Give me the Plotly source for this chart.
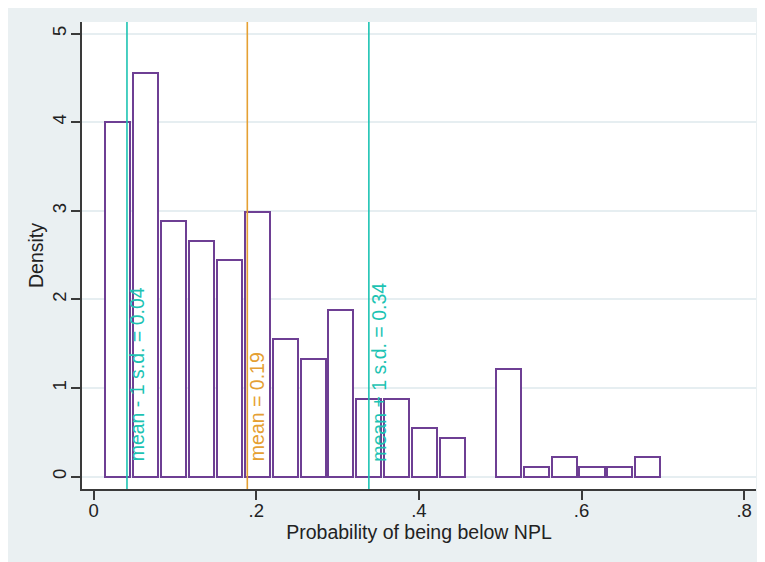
import plotly.graph_objects as go

# ---- data ----
bin_start = 0.0126          # left edge of first bin
bin_width = 0.0343          # width of each bin
density = [4.00, 4.55, 2.88, 2.66, 2.44, 2.99, 1.55, 1.33, 1.88, 0.88,
           0.88, 0.55, 0.44, 0.00, 1.22, 0.11, 0.22, 0.11, 0.11, 0.22]
ref_values = [0.041, 0.189, 0.3385]
ref_labels = ["mean - 1 s.d. = 0.04", "mean = 0.19", "mean + 1 s.d. = 0.34"]
ref_colors = ["#1DC3B3", "#E5A033", "#1DC3B3"]
x_tickvals = [0, 0.2, 0.4, 0.6, 0.8]
x_ticktext = ["0", ".2", ".4", ".6", ".8"]
y_tickvals = [0, 1, 2, 3, 4, 5]
y_ticktext = ["0", "1", "2", "3", "4", "5"]

centers = [bin_start + (i + 0.5) * bin_width for i in range(len(density))]
bar_heights = [d if d > 0 else None for d in density]  # empty bins draw nothing

BG = "#EAF0F2"
PURPLE = "#6E3F94"
AX = "#3A3A3A"
GRID = "#E6EEF1"
TXT = "#222222"
FONT = "Liberation Sans, Arial, sans-serif"

fig = go.Figure()
fig.add_trace(go.Bar(
    x=centers, y=bar_heights, width=bin_width * 0.9,
    marker=dict(color="white", line=dict(color=PURPLE, width=2)),
    showlegend=False, hoverinfo="x+y"))

for v, lab, col in zip(ref_values, ref_labels, ref_colors):
    fig.add_shape(type="line", xref="x", yref="paper", x0=v, x1=v, y0=0, y1=1,
                  line=dict(color=col, width=1.6), layer="above")
    fig.add_annotation(x=v, y=0.15, xref="x", yref="y", text=lab,
                       textangle=-90, showarrow=False, xanchor="left",
                       yanchor="bottom", xshift=-3,
                       font=dict(family=FONT, size=19.5, color=col))

# page body adds an 8px offset, so the figure is 8px smaller than the window
W, H = 757, 554
L, R, T, B = 74, 9, 14, 73

fig.update_layout(
    width=W, height=H,
    margin=dict(l=L, r=R, t=T, b=B, pad=0, autoexpand=False),
    paper_bgcolor=BG, plot_bgcolor="white",
    font=dict(family=FONT, size=18.5, color=TXT),
    bargap=0,
    xaxis=dict(range=[-0.0143, 0.8146], tickvals=x_tickvals, ticktext=x_ticktext,
               ticks="outside", ticklen=9, tickwidth=1.5, tickcolor=AX,
               showline=True, linecolor=AX, linewidth=1.5, showgrid=False,
               zeroline=False, automargin=False, ticklabelstandoff=-5,
               tickfont=dict(size=18.5, color=TXT),
               title=dict(text="Probability of being below NPL",
                          font=dict(size=19.5, color=TXT), standoff=2)),
    yaxis=dict(range=[-0.139, 5.13], tickvals=y_tickvals, ticktext=y_ticktext,
               tickangle=-90,
               ticks="outside", ticklen=9, tickwidth=1.5, tickcolor=AX,
               showline=True, linecolor=AX, linewidth=1.5, showgrid=True,
               gridcolor=GRID, gridwidth=1.5, zeroline=False, automargin=False,
               ticklabelstandoff=-2,
               tickfont=dict(size=18.5, color=TXT),
               title=dict(text="Density", font=dict(size=19.5, color=TXT),
                          standoff=0)),
)

fig.write_html("out.html")
